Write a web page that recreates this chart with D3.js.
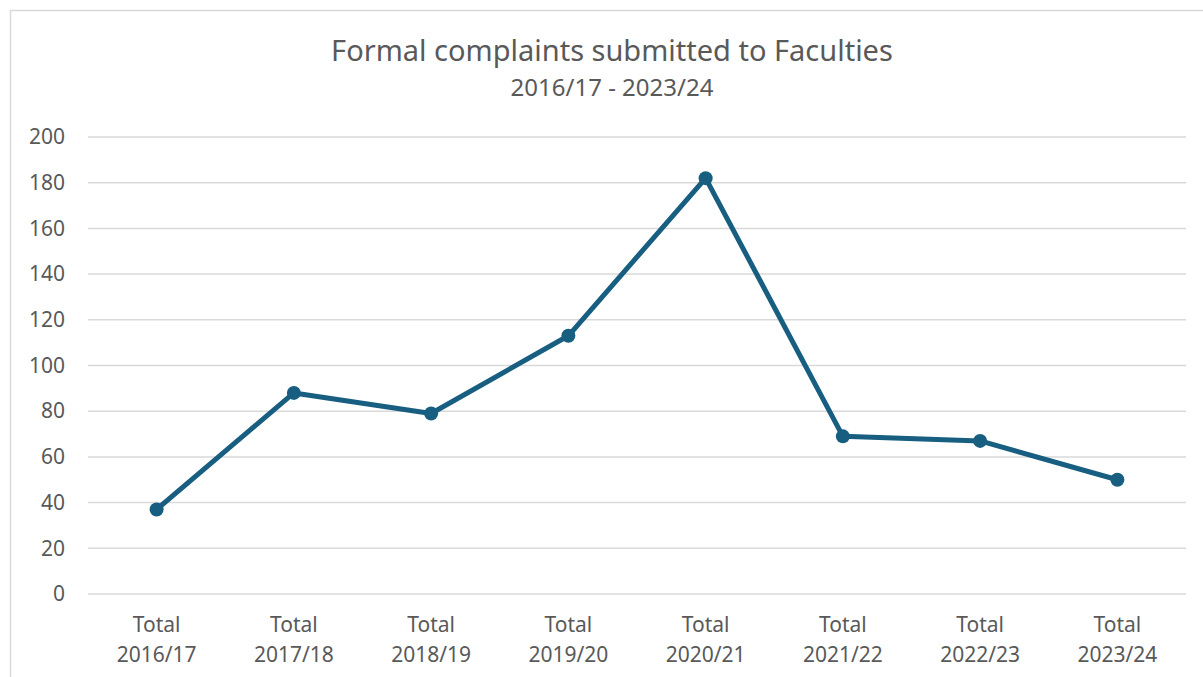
<!DOCTYPE html>
<html>
<head>
<meta charset="utf-8">
<script src="https://cdn.jsdelivr.net/npm/d3@7"></script>
<style>
  body { margin: 0; background: #fff; }
  svg { font-family: "Noto Sans", "Open Sans", sans-serif; }
</style>
</head>
<body>
<div id="chart"></div>
<script>
// data
var categories = ["Total 2016/17", "Total 2017/18", "Total 2018/19", "Total 2019/20",
                  "Total 2020/21", "Total 2021/22", "Total 2022/23", "Total 2023/24"];
var complaints = [37, 88, 79, 113, 182, 69, 67, 50];
var yTicks = [0, 20, 40, 60, 80, 100, 120, 140, 160, 180, 200];

var W = 1203, H = 677;
var margin = {top: 137, right: 17, bottom: 83, left: 88},
    width = W - margin.left - margin.right,
    height = H - margin.top - margin.bottom;

var svg = d3.select("#chart").append("svg")
    .attr("width", W)
    .attr("height", H);

// outer chart border
svg.append("rect")
    .attr("x", 10.5).attr("y", 10.5)
    .attr("width", W).attr("height", H)
    .attr("fill", "none")
    .attr("stroke", "#d9d9d9")
    .attr("stroke-width", 1.5);

// titles
svg.append("text")
    .attr("x", 612).attr("y", 61)
    .attr("text-anchor", "middle")
    .attr("fill", "#595959")
    .style("font-size", "29px")
    .text("Formal complaints submitted to Faculties");
svg.append("text")
    .attr("x", 612).attr("y", 96)
    .attr("text-anchor", "middle")
    .attr("fill", "#595959")
    .style("font-size", "24px")
    .text("2016/17 - 2023/24");

var g = svg.append("g")
    .attr("transform", "translate(" + margin.left + "," + margin.top + ")");

var x = d3.scaleBand()
    .domain(categories)
    .range([0, width]);

var y = d3.scaleLinear()
    .domain([0, 200])
    .range([height, 0]);

// gridlines
g.append("g")
    .selectAll("line")
    .data(yTicks)
    .enter()
    .append("line")
    .attr("x1", 0).attr("x2", width)
    .attr("y1", function(d) { return y(d); })
    .attr("y2", function(d) { return y(d); })
    .attr("stroke", "#d9d9d9")
    .attr("stroke-width", 1.5);

// Y axis
var yAxis = g.append("g")
    .call(d3.axisLeft(y).tickValues(yTicks).tickSize(0).tickPadding(23));
yAxis.select(".domain").remove();
yAxis.selectAll("text")
    .attr("fill", "#595959")
    .style("font-size", "21px")
    .style("font-family", "Noto Sans, sans-serif");

// X axis, two-line labels
var xAxis = g.append("g")
    .attr("transform", "translate(0," + height + ")")
    .call(d3.axisBottom(x).tickSize(0).tickFormat(""));
xAxis.select(".domain").remove();
xAxis.selectAll(".tick").each(function(d) {
    var parts = d.split(" ");
    var t = d3.select(this).append("text")
        .attr("text-anchor", "middle")
        .attr("fill", "#595959")
        .style("font-size", "21px")
        .style("font-family", "Noto Sans, sans-serif");
    t.append("tspan").attr("x", 0).attr("y", 38).text(parts[0]);
    t.append("tspan").attr("x", 0).attr("y", 68).text(parts[1]);
});

// line
var line = d3.line()
    .x(function(d, i) { return x(categories[i]) + x.bandwidth() / 2; })
    .y(function(d) { return y(d); });

g.append("path")
    .datum(complaints)
    .attr("d", line)
    .attr("fill", "none")
    .attr("stroke", "#175e80")
    .attr("stroke-width", 5)
    .attr("stroke-linejoin", "round");

// markers
g.append("g")
    .selectAll("circle")
    .data(complaints)
    .enter()
    .append("circle")
    .attr("cx", function(d, i) { return x(categories[i]) + x.bandwidth() / 2; })
    .attr("cy", function(d) { return y(d); })
    .attr("r", 7)
    .attr("fill", "#175e80");
</script>
</body>
</html>
